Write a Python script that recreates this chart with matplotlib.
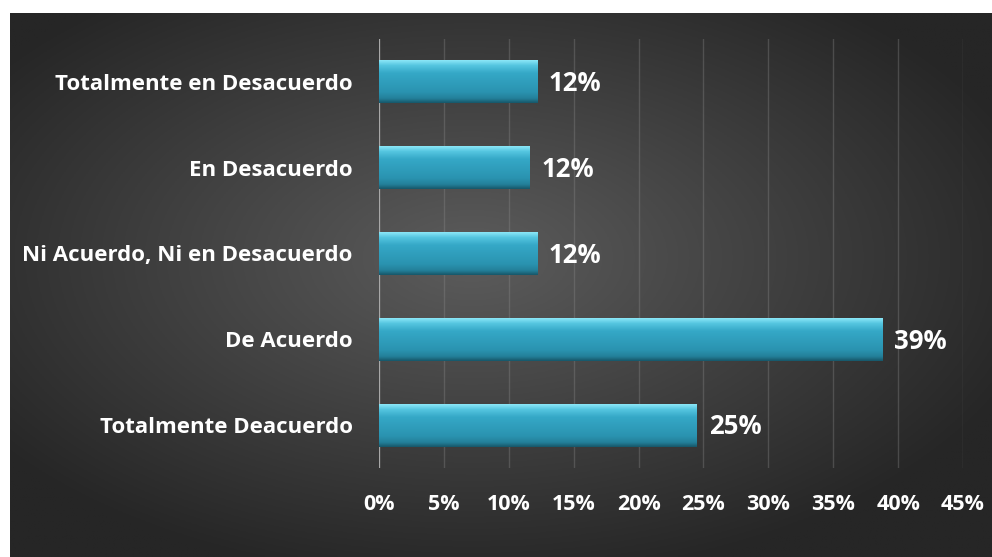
import numpy as np
import matplotlib.pyplot as plt
from matplotlib.colors import LinearSegmentedColormap

categorias = ["Totalmente en Desacuerdo", "En Desacuerdo", "Ni Acuerdo, Ni en Desacuerdo",
              "De Acuerdo", "Totalmente Deacuerdo"]
valores = [12.2, 11.6, 12.2, 38.8, 24.5]
etiquetas = ["12%", "12%", "12%", "39%", "25%"]
ticks = [0, 5, 10, 15, 20, 25, 30, 35, 40, 45]

plt.rcParams['font.family'] = ['Open Sans', 'DejaVu Sans']

fig = plt.figure(figsize=(9.92, 5.57), dpi=100)
fig.patch.set_facecolor("white")

# fondo con degradado radial
bg = fig.add_axes([10/992, 0, 982/992, 544/557])
bg.axis("off")
gx, gy = np.meshgrid(np.linspace(0, 1, 400), np.linspace(0, 1, 250))
r = np.sqrt(((gx - 0.47) / 0.75) ** 2 + ((gy - 0.45) / 0.75) ** 2)
r = np.clip(r / 0.8, 0, 1)
c0 = np.array([0x5c, 0x5c, 0x5c]) / 255
c1 = np.array([0x26, 0x26, 0x26]) / 255
img = c0[None, None, :] * (1 - r[..., None]) + c1[None, None, :] * r[..., None]
bg.imshow(img, aspect="auto", extent=[0, 1, 0, 1], origin="upper")
bg.set_xlim(0, 1)
bg.set_ylim(0, 1)

ax = fig.add_axes([379/992, 89/557, 584/992, 429/557])
ax.patch.set_alpha(0)
ax.set_xlim(0, 45)
ax.set_ylim(len(categorias) - 0.5, -0.5)
ax.set_xticks(ticks)
ax.set_xticklabels([f"{t}%" for t in ticks], color="white", fontsize=15.5, fontweight="bold")
ax.set_yticks(range(len(categorias)))
ax.set_yticklabels(categorias, color="white", fontsize=16, fontweight="bold")
ax.tick_params(axis="both", length=0)
ax.tick_params(axis="x", pad=19)
ax.tick_params(axis="y", pad=19)
for s in ax.spines.values():
    s.set_visible(False)
ax.grid(axis="x", color="#8a8a8a", alpha=0.35, linewidth=1)
ax.set_axisbelow(True)
ax.axvline(0, color="#a8a8a8", linewidth=1.6, zorder=2)

bar_cmap = LinearSegmentedColormap.from_list("bev", [
    (0.0, "#8ae6f7"), (0.12, "#55c6e0"), (0.3, "#35a8c7"),
    (0.75, "#2a93b0"), (0.9, "#237f99"), (1.0, "#17586b")])
grad = np.linspace(0, 1, 100).reshape(-1, 1)
h = 0.5
for i, v in enumerate(valores):
    ax.imshow(grad, cmap=bar_cmap, aspect="auto", extent=[0, v, i + h / 2, i - h / 2],
              origin="upper", zorder=3)
    ax.text(v + 0.9, i + 0.02, etiquetas[i], color="white", fontsize=18.5,
            fontweight="bold", va="center", ha="left")

ax.set_xlim(0, 45)
ax.set_ylim(len(categorias) - 0.5, -0.5)

fig.savefig("out.png", dpi=100)
